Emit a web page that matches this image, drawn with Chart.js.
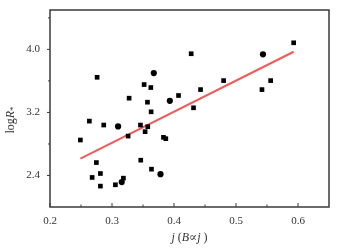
<!DOCTYPE html>
<html>
<head>
<meta charset="utf-8">
<script src="https://cdn.jsdelivr.net/npm/chart.js@4/dist/chart.umd.min.js"></script>
<style>
  html, body { margin: 0; padding: 0; background: #fff; }
  canvas { display: block; }
</style>
</head>
<body>
<canvas id="chart" width="338" height="248"></canvas>
<script>
  // square markers
  const squareX = [0.249, 0.2635, 0.276, 0.2867, 0.2748, 0.268, 0.2813, 0.2813, 0.3055, 0.3184, 0.326, 0.3276, 0.3459, 0.3464, 0.3534, 0.3577, 0.3518, 0.3572, 0.3626, 0.3631, 0.3637, 0.383, 0.3868, 0.4073, 0.4277, 0.4315, 0.4428, 0.48, 0.5419, 0.5559, 0.593];
  const squareY = [2.85, 3.09, 3.646, 3.04, 2.564, 2.375, 2.425, 2.265, 2.282, 2.366, 2.90, 3.381, 3.04, 2.594, 2.956, 3.019, 3.554, 3.33, 3.516, 3.208, 2.48, 2.884, 2.867, 3.415, 3.945, 3.259, 3.49, 3.604, 3.49, 3.604, 4.084];
  // round markers
  const circleX = [0.3098, 0.3674, 0.3933, 0.3782, 0.5435, 0.3157];
  const circleY = [3.023, 3.70, 3.347, 2.417, 3.937, 2.316];
  // fitted line
  const fitX = [0.249, 0.593];
  const fitY = [2.615, 3.97];

  const xTicks = [0.2, 0.3, 0.4, 0.5, 0.6];
  const xMinor = [0.25, 0.35, 0.45, 0.55];
  const yTicks = [2.4, 3.2, 4.0];
  const yMinor = [2.8, 3.6, 4.4];

  const pts = (xs, ys) => xs.map((v, i) => ({ x: v, y: ys[i] }));
  const serif = '"Liberation Serif", "DejaVu Serif", serif';

  const frame = {
    id: 'frame',
    afterDraw(chart) {
      const { ctx, chartArea: a, scales: { x, y } } = chart;
      ctx.save();
      ctx.strokeStyle = '#3a3a3a';
      ctx.lineWidth = 1.5;
      ctx.strokeRect(a.left, a.top, a.right - a.left, a.bottom - a.top);
      ctx.lineWidth = 1;
      ctx.beginPath();
      xTicks.forEach(v => { const p = x.getPixelForValue(v); ctx.moveTo(p, a.bottom); ctx.lineTo(p, a.bottom - 4); });
      xMinor.forEach(v => { const p = x.getPixelForValue(v); ctx.moveTo(p, a.bottom); ctx.lineTo(p, a.bottom - 2.5); });
      yTicks.forEach(v => { const p = y.getPixelForValue(v); ctx.moveTo(a.left, p); ctx.lineTo(a.left - 3, p); });
      yMinor.forEach(v => { const p = y.getPixelForValue(v); ctx.moveTo(a.left, p); ctx.lineTo(a.left - 2, p); });
      ctx.stroke();

      // axis titles
      ctx.fillStyle = '#333';
      ctx.textBaseline = 'middle';
      // x title: j (B ∝ j)
      const parts = [['italic ', 'j'], ['', ' ('], ['italic ', 'B'], ['', '\u221D'], ['italic ', 'j'], ['', ' )']];
      let w = 0;
      parts.forEach(p => { ctx.font = p[0] + '12px ' + serif; w += ctx.measureText(p[1]).width; });
      let cx = (a.left + a.right) / 2 - w / 2;
      parts.forEach(p => { ctx.font = p[0] + '12px ' + serif; ctx.textAlign = 'left'; ctx.fillText(p[1], cx, 238); cx += ctx.measureText(p[1]).width; });

      // y title: log R*
      ctx.translate(11, 120);
      ctx.rotate(-Math.PI / 2);
      const yp = [['', 'log', 0, 12], ['italic ', 'R', 0, 12], ['', '*', 3, 9]];
      w = 0;
      yp.forEach(p => { ctx.font = p[0] + p[3] + 'px ' + serif; w += ctx.measureText(p[1]).width; });
      cx = -w / 2;
      yp.forEach(p => { ctx.font = p[0] + p[3] + 'px ' + serif; ctx.textAlign = 'left'; ctx.fillText(p[1], cx, p[2]); cx += ctx.measureText(p[1]).width; });
      ctx.restore();
    }
  };

  new Chart(document.getElementById('chart'), {
    type: 'scatter',
    data: {
      datasets: [
        {
          data: pts(squareX, squareY),
          pointStyle: 'rect',
          pointRadius: 3.3,
          backgroundColor: '#000',
          borderWidth: 0,
          order: 1
        },
        {
          data: pts(circleX, circleY),
          pointStyle: 'circle',
          pointRadius: 3.1,
          backgroundColor: '#000',
          borderWidth: 0,
          order: 1
        },
        {
          type: 'line',
          data: pts(fitX, fitY),
          borderColor: '#f25a5a',
          borderWidth: 2,
          pointRadius: 0,
          fill: false,
          order: 3
        }
      ]
    },
    options: {
      responsive: false,
      animation: false,
      layout: { padding: { top: 10, right: 9, left: 0, bottom: 0 } },
      plugins: { legend: { display: false }, tooltip: { enabled: false } },
      scales: {
        x: {
          type: 'linear',
          min: 0.2,
          max: 0.65,
          afterFit: s => { s.height = 41; s.paddingLeft = 0; s.paddingRight = 0; },
          afterBuildTicks: s => { s.ticks = xTicks.map(v => ({ value: v })); },
          grid: { display: false, drawTicks: false },
          border: { display: false },
          ticks: {
            padding: 8,
            color: '#333',
            font: { family: serif, size: 11 },
            callback: v => v.toFixed(1)
          }
        },
        y: {
          min: 2.0,
          max: 4.5,
          afterFit: s => { s.width = 50; s.paddingTop = 0; s.paddingBottom = 0; },
          afterBuildTicks: s => { s.ticks = yTicks.map(v => ({ value: v })); },
          grid: { display: false, drawTicks: false },
          border: { display: false },
          ticks: {
            padding: 10,
            color: '#333',
            font: { family: serif, size: 11 },
            callback: v => v.toFixed(1)
          }
        }
      }
    },
    plugins: [frame]
  });
</script>
</body>
</html>
